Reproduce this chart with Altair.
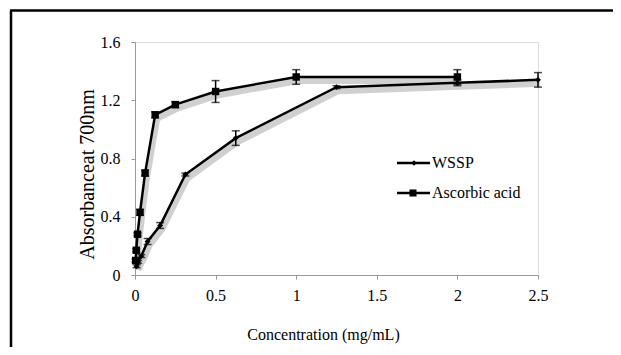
import altair as alt
import pandas as pd

# Data
conc_wssp = [0.0098, 0.0195, 0.039, 0.078, 0.156, 0.3125, 0.625, 1.25, 2.0, 2.5]
abs_wssp = [0.06, 0.09, 0.13, 0.23, 0.34, 0.69, 0.94, 1.29, 1.32, 1.34]
err_wssp = [0.01, 0.01, 0.01, 0.02, 0.02, 0.01, 0.05, 0.01, 0.02, 0.05]

conc_aa = [0.0039, 0.0078, 0.0156, 0.0313, 0.0625, 0.125, 0.25, 0.5, 1.0, 2.0]
abs_aa = [0.10, 0.17, 0.28, 0.43, 0.70, 1.10, 1.17, 1.26, 1.36, 1.36]
err_aa = [0.01, 0.01, 0.01, 0.02, 0.02, 0.02, 0.02, 0.075, 0.05, 0.05]

series_names = ["WSSP", "Ascorbic acid"]
x_ticks = [0, 0.5, 1, 1.5, 2, 2.5]
y_ticks = [0, 0.4, 0.8, 1.2, 1.6]

rows = []
for name, cs, vs, es in [(series_names[0], conc_wssp, abs_wssp, err_wssp),
                         (series_names[1], conc_aa, abs_aa, err_aa)]:
    for i, (c, v, e) in enumerate(zip(cs, vs, es)):
        rows.append({"series": name, "conc": c, "abs": v, "lo": v - e, "hi": v + e, "order": i})
df = pd.DataFrame(rows)

FONT = "Liberation Serif"

xs = alt.Scale(domain=[0, 2.5], nice=False, zero=False)
ys = alt.Scale(domain=[0, 1.6], nice=False)

base = alt.Chart(df)

common_axis = dict(grid=False, domainColor="#9a9a9a", tickColor="#9a9a9a", tickSize=4,
                   labelFont=FONT, labelFontSize=16, labelColor="black",
                   titleFont=FONT, titleFontWeight="normal", titleColor="black",
                   labelFlush=False, format="~g")

x_enc = alt.X("conc:Q", scale=xs,
              axis=alt.Axis(values=x_ticks, title="Concentration (mg/mL)",
                            labelPadding=8,
                            titleX=188, titleY=59, titleBaseline="middle",
                            titleAlign="center", titleFontSize=16, **common_axis))
y_enc = alt.Y("abs:Q", scale=ys,
              axis=alt.Axis(values=y_ticks, title="Absorbanceat 700nm",
                            labelPadding=11,
                            titleX=-48, titleY=132, titleAngle=-90,
                            titleBaseline="middle", titleAlign="center",
                            titleFontSize=20, **common_axis))

shadow = base.mark_line(color="#777777", strokeWidth=6, opacity=0.35,
                        xOffset=2, yOffset=4).encode(
    x=x_enc, y=y_enc, detail="series:N", order="order:Q")

lines = base.mark_line(color="black", strokeWidth=2.5).encode(
    x=x_enc, y=y_enc, detail="series:N", order="order:Q")

err_rule = base.mark_rule(color="black", strokeWidth=1.5).encode(
    x=x_enc, y=alt.Y("lo:Q", scale=ys), y2="hi:Q")
cap_lo = base.mark_tick(color="black", orient="horizontal", size=8, thickness=1.5).encode(
    x=x_enc, y=alt.Y("lo:Q", scale=ys))
cap_hi = base.mark_tick(color="black", orient="horizontal", size=8, thickness=1.5).encode(
    x=x_enc, y=alt.Y("hi:Q", scale=ys))

pts_w = base.transform_filter(alt.datum.series == "WSSP").mark_point(
    shape="diamond", filled=True, color="black", size=35, opacity=1).encode(
    x=x_enc, y=y_enc)
pts_a = base.transform_filter(alt.datum.series == "Ascorbic acid").mark_point(
    shape="square", filled=True, color="black", size=55, opacity=1).encode(
    x=x_enc, y=y_enc)

# manual legend
leg_df = pd.DataFrame({"series": series_names, "row": [0, 1]})
leg = alt.Chart(leg_df)
layers_leg = []
for r, (ypx, shape, sz, mx) in enumerate([(121, "diamond", 30, 279), (151, "square", 50, 278)]):
    sub = leg.transform_filter(alt.datum.row == r)
    layers_leg.append(sub.mark_rule(color="black", strokeWidth=2.5).encode(
        y=alt.value(ypx), x=alt.value(262), x2=alt.value(295)))
    layers_leg.append(sub.mark_point(shape=shape, filled=True, color="black",
                                     size=sz, opacity=1).encode(
        y=alt.value(ypx), x=alt.value(mx)))
    layers_leg.append(sub.mark_text(font=FONT, fontSize=16, align="left",
                                    baseline="middle", color="black").encode(
        y=alt.value(ypx), x=alt.value(297), text="series:N"))

# outer frame (only left and top edges visible in the image)
one = leg.transform_filter(alt.datum.row == 0)
frame_left = one.mark_rule(color="black", strokeWidth=2.5, clip=False).encode(
    x=alt.value(-124), y=alt.value(-31.5), y2=alt.value(330))
frame_top = one.mark_rule(color="black", strokeWidth=2.5, clip=False).encode(
    y=alt.value(-31.5), x=alt.value(-125), x2=alt.value(490))

chart = alt.layer(
    shadow, lines, err_rule, cap_lo, cap_hi, pts_w, pts_a,
    *layers_leg, frame_left, frame_top
).properties(
    width=403, height=233,
    autosize=alt.AutoSizeParams(type="none"),
    padding={"left": 127, "top": 34, "right": 75, "bottom": 72},
).configure_view(stroke=None).configure(background="white", font=FONT)

chart.save("out.html", embed_options={"renderer": "svg", "actions": False})
